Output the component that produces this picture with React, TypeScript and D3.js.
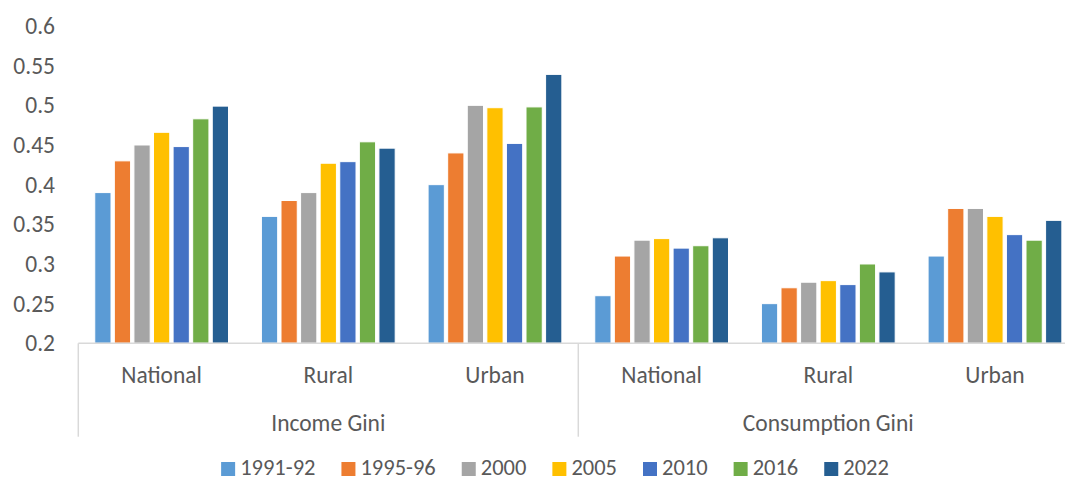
import React, { useEffect, useRef } from "react";
import * as d3 from "d3";

const categories = ["National", "Rural", "Urban", "National", "Rural", "Urban"];
const groups = ["Income Gini", "Consumption Gini"];
const seriesNames = ["1991-92", "1995-96", "2000", "2005", "2010", "2016", "2022"];
const s1991_92 = [0.39, 0.36, 0.4, 0.26, 0.25, 0.31];
const s1995_96 = [0.43, 0.38, 0.44, 0.31, 0.27, 0.37];
const s2000 = [0.45, 0.39, 0.5, 0.33, 0.277, 0.37];
const s2005 = [0.466, 0.427, 0.497, 0.332, 0.279, 0.36];
const s2010 = [0.448, 0.429, 0.452, 0.32, 0.274, 0.337];
const s2016 = [0.483, 0.454, 0.498, 0.323, 0.3, 0.33];
const s2022 = [0.499, 0.446, 0.539, 0.333, 0.29, 0.355];
const yTicks = [0.2, 0.25, 0.3, 0.35, 0.4, 0.45, 0.5, 0.55, 0.6];
const colors = ["#5B9BD5", "#ED7D31", "#A5A5A5", "#FFC000", "#4472C4", "#70AD47", "#255E91"];

const W = 1065;
const H = 479;
const FONT = "Carlito, Calibri, Lato, sans-serif";

export default function App() {
  const ref = useRef<SVGSVGElement | null>(null);

  useEffect(() => {
    const svg = d3.select(ref.current);
    svg.selectAll("*").remove();
    const values = [s1991_92, s1995_96, s2000, s2005, s2010, s2016, s2022];

    const left = 78.3;
    const right = 1078.3;
    const y = d3.scaleLinear().domain([0.2, 0.6]).range([343.3, 26]);
    const x0 = d3
      .scaleBand<number>()
      .domain(categories.map((_, i) => i))
      .range([left, right]);
    const x1 = d3
      .scaleBand<number>()
      .domain(seriesNames.map((_, i) => i))
      .range([0, x0.bandwidth()])
      .paddingInner(0.17)
      .paddingOuter(0.84);

    // y labels
    svg
      .append("g")
      .selectAll("text")
      .data(yTicks)
      .join("text")
      .attr("x", 55)
      .attr("y", (d) => y(d) + 8)
      .attr("text-anchor", "end")
      .attr("font-family", FONT)
      .attr("font-size", 23.5)
      .attr("fill", "#595959")
      .text((d) => d3.format("")(+d.toFixed(2)));

    // bars
    const gBars = svg.append("g");
    values.forEach((arr, si) => {
      gBars
        .append("g")
        .selectAll("rect")
        .data(arr)
        .join("rect")
        .attr("x", (_, ci) => (x0(ci) as number) + (x1(si) as number))
        .attr("y", (d) => y(d))
        .attr("width", x1.bandwidth())
        .attr("height", (d) => y(0.2) - y(d))
        .attr("fill", colors[si])
        .attr("stroke", "#fff")
        .attr("stroke-width", 1);
    });

    // axis lines
    const axisColor = "#D9D9D9";
    svg
      .append("line")
      .attr("x1", left)
      .attr("x2", right)
      .attr("y1", y(0.2))
      .attr("y2", y(0.2))
      .attr("stroke", axisColor)
      .attr("stroke-width", 1.5);
    [0, 3].forEach((ci) => {
      const xx = x0(ci) as number;
      svg
        .append("line")
        .attr("x1", xx)
        .attr("x2", xx)
        .attr("y1", y(0.2))
        .attr("y2", 436.7)
        .attr("stroke", axisColor)
        .attr("stroke-width", 1.5);
    });

    // category labels
    svg
      .append("g")
      .selectAll("text")
      .data(categories)
      .join("text")
      .attr("x", (_, i) => (x0(i) as number) + x0.bandwidth() / 2)
      .attr("y", 382.5)
      .attr("text-anchor", "middle")
      .attr("font-family", FONT)
      .attr("font-size", 23.5)
      .attr("fill", "#595959")
      .text((d) => d);

    // group labels
    svg
      .append("g")
      .selectAll("text")
      .data(groups)
      .join("text")
      .attr("x", (_, i) => (x0(i * 3) as number) + (x0.bandwidth() * 3) / 2)
      .attr("y", 430.5)
      .attr("text-anchor", "middle")
      .attr("font-family", FONT)
      .attr("font-size", 23.5)
      .attr("fill", "#595959")
      .text((d) => d);

    // legend
    const lg = svg.append("g");
    const items = seriesNames.map((name, i) => {
      const g = lg.append("g");
      g.append("rect")
        .attr("width", 14)
        .attr("height", 14)
        .attr("y", 462)
        .attr("fill", colors[i]);
      const t = g
        .append("text")
        .attr("x", 19)
        .attr("y", 474.5)
        .attr("font-family", FONT)
        .attr("font-size", 22.5)
        .attr("fill", "#595959")
        .text(name);
      const w = 19 + (t.node() as SVGTextElement).getComputedTextLength();
      return { g, w };
    });
    const gap = 26;
    const total = items.reduce((a, b) => a + b.w, 0) + gap * (items.length - 1);
    let cx = 555 - total / 2;
    items.forEach((it) => {
      it.g.attr("transform", `translate(${cx},0)`);
      cx += it.w + gap;
    });
  }, []);

  return (
    <svg
      ref={ref}
      width={W}
      height={H}
      style={{ position: "absolute", left: 0, top: 0, background: "#fff" }}
    />
  );
}
